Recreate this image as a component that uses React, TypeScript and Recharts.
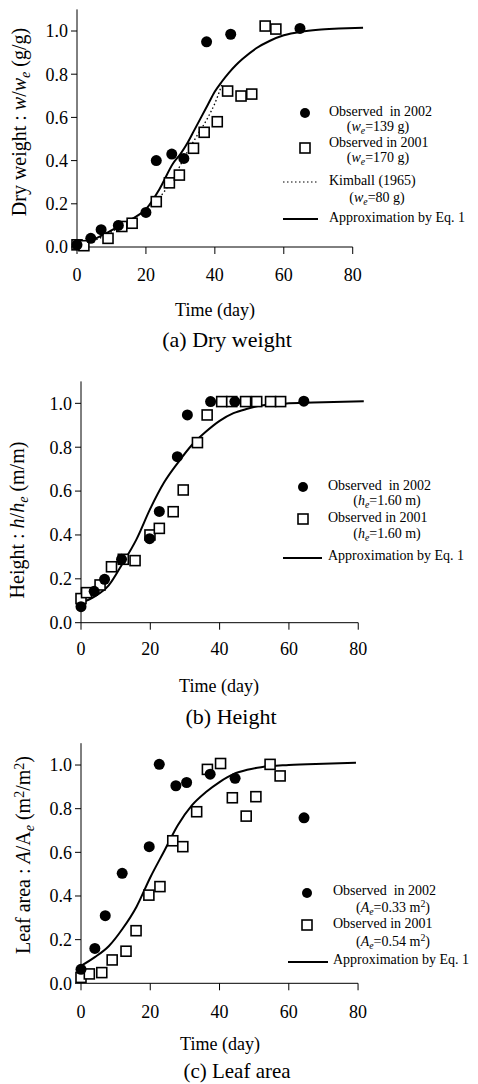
import React from "react";
import { ComposedChart, Legend, Line, ReferenceLine, Scatter, XAxis, YAxis } from "recharts";

type Pt = [number, number];

const DAY_TICKS = [0, 20, 40, 60, 80];
const RATIO_TICKS = [0, 0.2, 0.4, 0.6, 0.8, 1.0];

// (a) dry weight, w/we
const dryWeight2002: Pt[] = [
  [0, 0.01], [4, 0.04], [7, 0.08], [12, 0.1], [20, 0.16], [23, 0.4],
  [27.5, 0.43], [31, 0.41], [37.6, 0.95], [44.6, 0.985], [64.7, 1.012],
];
const dryWeight2001: Pt[] = [
  [0, 0.01], [2, 0.006], [9, 0.04], [13, 0.095], [16, 0.11], [23, 0.21],
  [26.8, 0.297], [29.7, 0.333], [33.8, 0.457], [36.9, 0.531], [40.7, 0.58],
  [43.7, 0.722], [47.6, 0.699], [50.7, 0.708], [54.6, 1.023], [57.7, 1.009],
];
const dryWeightKimball: Pt[] = [
  [0, 0.01], [5, 0.03], [10, 0.07], [15, 0.12], [20, 0.17], [24, 0.23],
  [28, 0.32], [32, 0.44], [35, 0.52], [38, 0.6], [40, 0.665], [42, 0.75],
];
const dryWeightEq: Pt[] = [
  [0, 0.01], [4, 0.03], [8, 0.06], [12, 0.095], [16, 0.13], [20, 0.175],
  [24, 0.27], [28, 0.39], [30, 0.43], [32, 0.48], [34, 0.54], [36, 0.6],
  [38, 0.66], [40, 0.72], [42, 0.765], [44, 0.805], [46, 0.84], [48, 0.87],
  [52, 0.92], [56, 0.955], [60, 0.98], [65, 0.997], [70, 1.006], [76, 1.011], [83, 1.015],
];

// (b) height, h/he
const height2002: Pt[] = [
  [0, 0.073], [3.8, 0.143], [6.8, 0.198], [11.7, 0.289], [19.8, 0.383], [22.6, 0.507],
  [27.8, 0.757], [30.7, 0.947], [37.4, 1.008], [44.4, 1.008], [64.3, 1.01],
];
const height2001: Pt[] = [
  [0, 0.11], [1.6, 0.137], [5.5, 0.172], [8.8, 0.255], [12.2, 0.289], [15.6, 0.283],
  [19.9, 0.4], [22.6, 0.43], [26.6, 0.506], [29.5, 0.605], [33.6, 0.821], [36.4, 0.947],
  [40.6, 1.008], [43.5, 1.008], [47.5, 1.008], [50.7, 1.008], [54.7, 1.008], [57.6, 1.008],
];
const heightEq: Pt[] = [
  [0, 0.09], [4, 0.12], [8, 0.17], [12, 0.27], [16, 0.38], [20, 0.52], [24, 0.64],
  [28, 0.73], [32, 0.81], [36, 0.87], [40, 0.92], [44, 0.955], [48, 0.975],
  [52, 0.99], [60, 1.0], [70, 1.005], [81.6, 1.01],
];

// (c) leaf area, A/Ae
const leafArea2002: Pt[] = [
  [0, 0.064], [4, 0.16], [7, 0.31], [11.9, 0.504], [19.7, 0.626], [22.6, 1.003],
  [27.4, 0.905], [30.5, 0.92], [37.3, 0.958], [44.5, 0.939], [64.4, 0.758],
];
const leafArea2001: Pt[] = [
  [0, 0.027], [2.4, 0.043], [6, 0.049], [9, 0.107], [13, 0.147], [15.9, 0.241],
  [19.6, 0.404], [22.8, 0.443], [26.5, 0.653], [29.4, 0.626], [33.4, 0.786], [36.5, 0.98],
  [40.3, 1.007], [43.7, 0.85], [47.7, 0.766], [50.5, 0.855], [54.6, 1.003], [57.5, 0.95],
];
const leafAreaEq: Pt[] = [
  [0, 0.08], [4, 0.12], [8, 0.17], [12, 0.25], [16, 0.35], [20, 0.485], [24, 0.605],
  [28, 0.725], [32, 0.815], [36, 0.875], [40, 0.922], [44, 0.958], [48, 0.978],
  [52, 0.99], [60, 1.0], [70, 1.006], [79.4, 1.01],
];

const FONT = '"Liberation Serif", "Times New Roman", serif';
const W = 478;
const YAXIS_W = 60;
const XAXIS_H = 50;

const toXY = (pts: Pt[]) => pts.map(([x, y]) => ({ x, y }));

const Dot = (p: any) => <circle cx={p.cx} cy={p.cy} r={5.5} fill="#000" />;
const Box = (p: any) => (
  <rect x={p.cx - 5} y={p.cy - 5} width={10} height={10} fill="#fff" stroke="#000" strokeWidth={1.6} />
);

const Sub = ({ children }: { children: React.ReactNode }) => (
  <span style={{ fontSize: "0.7em", verticalAlign: "-0.3em" }}>{children}</span>
);
const Sup = ({ children }: { children: React.ReactNode }) => (
  <span style={{ fontSize: "0.7em", verticalAlign: "0.45em" }}>{children}</span>
);

type Item =
  | { kind: "dot" | "box"; x: number; y: number }
  | { kind: "solid" | "dotted"; x1: number; x2: number; y: number }
  | { kind: "text"; x: number; y: number; center?: boolean; text: React.ReactNode };

function LegendBlock({ items, top }: { items: Item[]; top: number }) {
  return (
    <div style={{ position: "relative", width: W, height: 1, fontFamily: FONT, fontSize: 14, color: "#000" }}>
      <svg width={W} height={400} style={{ position: "absolute", left: 0, top: 0, overflow: "visible" }}>
        {items.map((it, i) => {
          if (it.kind === "dot") return <circle key={i} cx={it.x} cy={it.y - top} r={5} fill="#000" />;
          if (it.kind === "box")
            return <rect key={i} x={it.x - 5} y={it.y - top - 5} width={10} height={10} fill="#fff" stroke="#000" strokeWidth={1.6} />;
          if (it.kind === "solid")
            return <line key={i} x1={it.x1} x2={it.x2} y1={it.y - top} y2={it.y - top} stroke="#000" strokeWidth={2} />;
          if (it.kind === "dotted")
            return <line key={i} x1={it.x1} x2={it.x2} y1={it.y - top} y2={it.y - top} stroke="#000" strokeWidth={1.2} strokeDasharray="1.5 2.5" />;
          return null;
        })}
      </svg>
      {items.map((it, i) =>
        it.kind === "text" ? (
          <div
            key={i}
            style={{
              position: "absolute",
              left: it.x,
              top: it.y - top,
              transform: it.center ? "translate(-50%, -50%)" : "translate(0, -50%)",
              whiteSpace: "pre",
              lineHeight: 1,
            }}
          >
            {it.text}
          </div>
        ) : null,
      )}
    </div>
  );
}

interface PanelProps {
  top: number;
  height: number;
  x0: number; // px of day 0
  x84: number; // px of day 84
  y11: number; // px of 1.1
  y0: number; // px of 0
  tickMargin: number;
  obs2002: Pt[];
  obs2001: Pt[];
  eq: Pt[];
  kimball?: Pt[];
  legend: Item[];
}

function Panel(p: PanelProps) {
  const margin = {
    top: p.y11 - p.top,
    bottom: p.top + p.height - p.y0 - XAXIS_H,
    left: p.x0 - YAXIS_W,
    right: W - p.x84,
  };
  return (
    <div style={{ position: "absolute", left: 0, top: p.top }}>
      <ComposedChart width={W} height={p.height} margin={margin}>
        <XAxis
          type="number"
          dataKey="x"
          domain={[0, 84]}
          ticks={DAY_TICKS}
          axisLine={false}
          tickLine={{ stroke: "#000" }}
          tickSize={7}
          tickMargin={p.tickMargin}
          height={XAXIS_H}
          tick={{ fill: "#000", fontSize: 18, fontFamily: FONT }}
        />
        <YAxis
          type="number"
          dataKey="y"
          domain={[0, 1.1]}
          ticks={RATIO_TICKS}
          tickFormatter={(v: number) => v.toFixed(1)}
          axisLine={{ stroke: "#000" }}
          tickLine={{ stroke: "#000" }}
          tickSize={6}
          tickMargin={3}
          width={YAXIS_W}
          tick={{ fill: "#000", fontSize: 18, fontFamily: FONT }}
        />
        <ReferenceLine segment={[{ x: 0, y: 0 }, { x: 80, y: 0 }]} stroke="#000" />
        <Legend
          layout="vertical"
          align="center"
          verticalAlign="middle"
          wrapperStyle={{ position: "absolute", left: 0, top: 0, width: W, height: 1 }}
          content={() => <LegendBlock items={p.legend} top={p.top} />}
        />
        <Scatter data={toXY(p.obs2001)} shape={Box} isAnimationActive={false} />
        <Scatter data={toXY(p.obs2002)} shape={Dot} isAnimationActive={false} />
        {p.kimball && (
          <Line
            data={toXY(p.kimball)}
            dataKey="y"
            type="monotone"
            stroke="#000"
            strokeWidth={1.3}
            strokeDasharray="1.5 2.5"
            dot={false}
            isAnimationActive={false}
          />
        )}
        <Line data={toXY(p.eq)} dataKey="y" type="monotone" stroke="#000" strokeWidth={2} dot={false} isAnimationActive={false} />
      </ComposedChart>
    </div>
  );
}

function Label({ x, y, size, children, rotate }: { x: number; y: number; size: number; children: React.ReactNode; rotate?: boolean }) {
  return (
    <div
      style={{
        position: "absolute",
        left: x,
        top: y,
        transform: `translate(-50%, -50%)${rotate ? " rotate(-90deg)" : ""}`,
        whiteSpace: "nowrap",
        fontSize: size,
        lineHeight: 1,
        fontFamily: FONT,
        color: "#000",
      }}
    >
      {children}
    </div>
  );
}

const legendA: Item[] = [
  { kind: "dot", x: 305, y: 113 },
  { kind: "text", x: 329, y: 112, text: "Observed  in 2002" },
  { kind: "text", x: 378, y: 128, center: true, text: <>(<i>w</i><Sub><i>e</i></Sub>=139 g)</> },
  { kind: "box", x: 305, y: 148 },
  { kind: "text", x: 329, y: 143, text: "Observed in 2001" },
  { kind: "text", x: 378, y: 159, center: true, text: <>(<i>w</i><Sub><i>e</i></Sub>=170 g)</> },
  { kind: "dotted", x1: 283, x2: 318, y: 182 },
  { kind: "text", x: 329, y: 181, text: "Kimball (1965)" },
  { kind: "text", x: 377, y: 199, center: true, text: <>(<i>w</i><Sub><i>e</i></Sub>=80 g)</> },
  { kind: "solid", x1: 283, x2: 318, y: 219 },
  { kind: "text", x: 329, y: 218, text: "Approximation by Eq. 1" },
];

const legendB: Item[] = [
  { kind: "dot", x: 303, y: 487 },
  { kind: "text", x: 328, y: 486, text: "Observed  in 2002" },
  { kind: "text", x: 387, y: 502, center: true, text: <>(<i>h</i><Sub><i>e</i></Sub>=1.60 m)</> },
  { kind: "box", x: 303, y: 519 },
  { kind: "text", x: 328, y: 518, text: "Observed in 2001" },
  { kind: "text", x: 387, y: 535, center: true, text: <>(<i>h</i><Sub><i>e</i></Sub>=1.60 m)</> },
  { kind: "solid", x1: 283, x2: 322, y: 558 },
  { kind: "text", x: 328, y: 556, text: "Approximation by Eq. 1" },
];

const legendC: Item[] = [
  { kind: "dot", x: 307, y: 893 },
  { kind: "text", x: 333, y: 891, text: "Observed  in 2002" },
  { kind: "text", x: 393, y: 908, center: true, text: <>(<i>A</i><Sub><i>e</i></Sub>=0.33 m<Sup>2</Sup>)</> },
  { kind: "box", x: 307, y: 925 },
  { kind: "text", x: 333, y: 924, text: "Observed in 2001" },
  { kind: "text", x: 393, y: 942, center: true, text: <>(<i>A</i><Sub><i>e</i></Sub>=0.54 m<Sup>2</Sup>)</> },
  { kind: "solid", x1: 288, x2: 328, y: 962 },
  { kind: "text", x: 333, y: 960, text: "Approximation by Eq. 1" },
];

export default function App() {
  return (
    <div
      style={{
        position: "absolute",
        left: 0,
        top: 0,
        width: W,
        height: 1084,
        overflow: "hidden",
        background: "#fff",
        fontFamily: FONT,
      }}
    >
      <Panel
        top={0}
        height={300}
        x0={77}
        x84={366.5}
        y11={9.4}
        y0={247}
        tickMargin={14}
        obs2002={dryWeight2002}
        obs2001={dryWeight2001}
        kimball={dryWeightKimball}
        eq={dryWeightEq}
        legend={legendA}
      />
      <Label x={21} y={122} size={20} rotate>
        Dry weight : <i>w</i>/<i>w</i><Sub><i>e</i></Sub> (g/g)
      </Label>
      <Label x={215} y={310} size={18}>Time (day)</Label>
      <Label x={227} y={340} size={22}>(a) Dry weight</Label>

      <Panel
        top={360}
        height={315}
        x0={81}
        x84={372.1}
        y11={381.4}
        y0={622.7}
        tickMargin={12.5}
        obs2002={height2002}
        obs2001={height2001}
        eq={heightEq}
        legend={legendB}
      />
      <Label x={19} y={520} size={20} rotate>
        Height : <i>h</i>/<i>h</i><Sub><i>e</i></Sub> (m/m)
      </Label>
      <Label x={219} y={686} size={18}>Time (day)</Label>
      <Label x={231} y={717} size={22}>(b) Height</Label>

      <Panel
        top={720}
        height={320}
        x0={81}
        x84={371.9}
        y11={743.2}
        y0={983.3}
        tickMargin={15}
        obs2002={leafArea2002}
        obs2001={leafArea2001}
        eq={leafAreaEq}
        legend={legendC}
      />
      <Label x={25} y={855} size={20} rotate>
        Leaf area : <i>A</i>/A<Sub><i>e</i></Sub> (m<Sup>2</Sup>/m<Sup>2</Sup>)
      </Label>
      <Label x={220} y={1044} size={18}>Time (day)</Label>
      <Label x={237} y={1071} size={21}>(c) Leaf area</Label>
    </div>
  );
}
